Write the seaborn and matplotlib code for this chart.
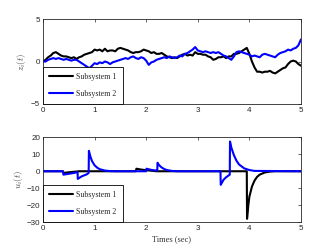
import numpy as np
import pandas as pd
import seaborn as sns
import matplotlib.pyplot as plt

# top panel: states z_i(t), sampled every 0.05 s
t_z = [round(0.05 * k, 2) for k in range(101)]
z1 = [0.0, 0.2, 0.5, 0.7, 1.0, 1.1, 0.9, 0.7, 0.6, 0.6,
      0.5, 0.4, 0.5, 0.3, 0.5, 0.6, 0.8, 0.9, 1.0, 1.1,
      1.4, 1.3, 1.4, 1.2, 1.5, 1.2, 1.3, 1.3, 1.2, 1.5,
      1.6, 1.5, 1.4, 1.3, 1.1, 1.0, 1.1, 1.1, 1.2, 1.4,
      1.3, 1.2, 1.0, 1.1, 0.9, 0.9, 1.0, 0.8, 0.6, 0.5,
      0.4, 0.5, 0.4, 0.6, 0.8, 0.9, 0.7, 0.8, 0.7, 1.1,
      0.9, 0.9, 0.8, 0.8, 0.6, 0.5, 0.2, 0.3, 0.5, 0.5,
      0.6, 0.4, 0.6, 0.6, 0.9, 0.9, 1.0, 1.2, 1.4, 1.6,
      0.9, 0.0, -0.7, -1.2, -1.2, -1.3, -1.2, -1.2, -1.1, -1.3,
      -1.4, -1.2, -1.0, -0.8, -0.7, -0.3, 0.0, 0.1, 0.0, -0.3,
      -0.5]
z2 = [0.0, 0.0, 0.2, 0.3, 0.4, 0.3, 0.4, 0.3, 0.2, 0.3,
      0.2, 0.1, 0.2, 0.2, 0.0, -0.2, -0.4, -0.6, -0.8, -0.5,
      -0.2, -0.3, -0.1, -0.2, 0.0, -0.1, -0.3, -0.1, 0.0, 0.1,
      0.2, 0.3, 0.4, 0.3, 0.5, 0.6, 0.4, 0.3, 0.5, 0.4,
      0.1, -0.4, -0.1, 0.0, 0.2, 0.3, 0.4, 0.5, 0.4, 0.6,
      0.5, 0.4, 0.5, 0.7, 0.6, 0.9, 1.0, 1.2, 1.4, 1.7,
      1.3, 1.2, 1.1, 1.2, 1.1, 1.0, 1.1, 1.0, 1.1, 0.9,
      0.7, 0.6, 0.4, 0.2, 0.6, 1.1, 1.2, 1.1, 1.0, 0.9,
      0.8, 0.6, 0.7, 0.6, 0.5, 0.8, 0.9, 0.8, 0.7, 0.6,
      0.5, 0.8, 1.0, 1.1, 1.2, 1.4, 1.3, 1.5, 1.6, 1.9,
      2.6]

# bottom panel: inputs u_i(t)
t_u1 = [0, 0.38, 0.40, 0.5, 0.6, 0.7, 1.8, 1.81, 1.9, 2.0, 2.1, 2.2,
        3.95, 3.955, 3.98, 4.0, 4.05, 4.1, 4.15, 4.2, 4.3, 4.4, 4.5, 5.0]
u1 = [0, 0, -1, -0.6, -0.3, 0, 0, 1.5, 1.0, 0.6, 0.3, 0,
      0, -28, -20, -15, -9, -5.5, -3.3, -2, -0.7, -0.2, 0, 0]
t_u2 = [0, 0.39, 0.395, 0.5, 0.6, 0.67, 0.675, 0.75, 0.85, 0.885, 0.89,
        0.92, 0.95, 1.0, 1.05, 1.1, 1.2, 1.3, 1.4, 2.0, 2.005, 2.1, 2.2,
        2.215, 2.22, 2.25, 2.3, 2.35, 2.4, 2.5, 2.6, 3.44, 3.445, 3.5,
        3.55, 3.62, 3.625, 3.65, 3.7, 3.75, 3.8, 3.9, 4.0, 4.1, 5.0]
u2 = [0, 0, -2, -1.5, -1, -0.5, -4.5, -3, -1.8, -1, 12,
      8.5, 6, 3.5, 2.1, 1.2, 0.4, 0.1, 0, 0, 1.5, 0.8, 0.4,
      0.3, 5, 3.6, 2.2, 1.3, 0.7, 0.2, 0, 0, -8, -5,
      -3.5, -2, 17.5, 14, 9.5, 6.2, 4, 1.7, 0.7, 0.2, 0]

labels = ['Subsystem 1', 'Subsystem 2']
colors = ['#000000', '#0000ff']

sns.set_style('white')
plt.rcParams['mathtext.fontset'] = 'cm'
tick_font = 'Liberation Sans'
serif = 'Liberation Serif'

fig = plt.figure(figsize=(3.32, 2.5), dpi=100)
ax1 = fig.add_axes([0.1295, 0.584, 0.777, 0.34])
ax2 = fig.add_axes([0.1295, 0.111, 0.777, 0.34])


def draw(ax, series):
    for (t, v), lab, c in zip(series, labels, colors):
        sns.lineplot(x=t, y=v, ax=ax, color=c, lw=1.5, label=lab,
                     estimator=None, sort=False)


draw(ax1, [(t_z, z1), (t_z, z2)])
draw(ax2, [(t_u1, u1), (t_u2, u2)])

ax1.set_ylim(-5, 5)
ax1.set_yticks([-5, 0, 5])
ax2.set_ylim(-30, 20)
ax2.set_yticks([-30, -20, -10, 0, 10, 20])
ax1.set_ylabel('$z_i(t)$', fontsize=6.5, color='#444444', labelpad=2)
ax2.set_ylabel('$u_i(t)$', fontsize=6.5, color='#444444', labelpad=1)
ax2.set_xlabel('Times (sec)', fontsize=6, family=serif, color='#333333', labelpad=2)

for ax in (ax1, ax2):
    ax.set_xlim(0, 5)
    ax.set_xticks([0, 1, 2, 3, 4, 5])
    ax.tick_params(direction='in', length=2.5, width=0.5, top=True, right=True,
                   labelsize=5.8, pad=2, colors='#262626')
    for lab in ax.get_xticklabels() + ax.get_yticklabels():
        lab.set_family(tick_font)
    for s in ax.spines.values():
        s.set_linewidth(0.6)
        s.set_color('#262626')
    leg = ax.legend(loc='lower left', borderaxespad=0, prop={'family': serif, 'size': 5.7},
                    handlelength=3.0, handletextpad=0.35, labelspacing=1.1,
                    borderpad=0.8, fancybox=False, framealpha=1, edgecolor='#000000')
    leg.get_frame().set_linewidth(0.6)

fig.savefig('out.png', dpi=100)
